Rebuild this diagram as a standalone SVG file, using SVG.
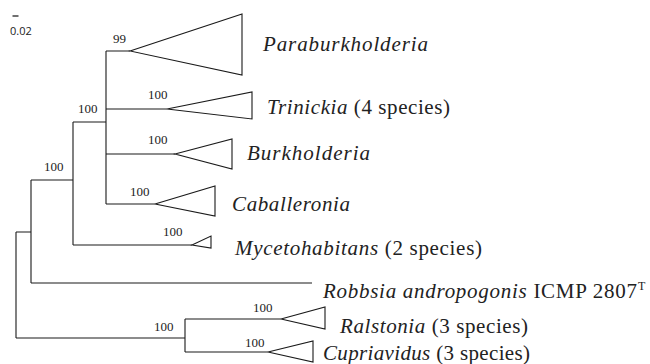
<svg xmlns="http://www.w3.org/2000/svg" width="650" height="364" viewBox="0 0 650 364">
<style>
.br{fill:none;stroke:#1a1a1a;stroke-width:1.1}
.tri{fill:#fff;stroke:#1a1a1a;stroke-width:1.1}
.bs{font-family:'Liberation Serif','Times New Roman',Times,'DejaVu Serif',serif;font-size:13px;fill:#222}
.tx{font-family:'Liberation Serif','Times New Roman',Times,'DejaVu Serif',serif;font-size:21px;fill:#222}
.it{font-style:italic}
.sup{font-family:'Liberation Serif','Times New Roman',Times,'DejaVu Serif',serif;font-size:12px;fill:#222}
.sc{font-family:'Open Sans','Liberation Sans',sans-serif;font-size:11px;fill:#222}
</style>
<rect width="650" height="364" fill="#fff"/>
<g id="scale">
<line x1="12.5" y1="16" x2="18.5" y2="16" stroke="#333" stroke-width="1.4"/>
<text x="10" y="35" class="sc">0.02</text>
</g>
<g id="connectors">
<path class="br" d="M16,232V338M16,232H31M16,338H185M31,180V283M31,180H73M31,283H312M73,122V245M73,122H106M73,245H192M106,51V204M106,51H130M106,109H167M106,154H175M106,204H155M185,319V352M185,319H281M185,352H268"/>
</g>
<g id="support">
<text x="113" y="43" class="bs">99</text>
<text x="78" y="113" class="bs">100</text>
<text x="148" y="99" class="bs">100</text>
<text x="148" y="144" class="bs">100</text>
<text x="44" y="171" class="bs">100</text>
<text x="130" y="196" class="bs">100</text>
<text x="163" y="236" class="bs">100</text>
<text x="154" y="331" class="bs">100</text>
<text x="253" y="312" class="bs">100</text>
<text x="245" y="347" class="bs">100</text>
</g>
<g id="paraburkholderia">
<polygon class="tri" points="130,51 242,14 242,75"/>
<text x="263" y="51" class="tx it" textLength="165" lengthAdjust="spacing">Paraburkholderia</text>
</g>
<g id="trinickia">
<polygon class="tri" points="167,109 252,92 252,119"/>
<text x="267" y="114" class="tx" textLength="183" lengthAdjust="spacing"><tspan class="it">Trinickia</tspan> (4 species)</text>
</g>
<g id="burkholderia">
<polygon class="tri" points="175,154 232,139 232,169"/>
<text x="247" y="160" class="tx it" textLength="123" lengthAdjust="spacing">Burkholderia</text>
</g>
<g id="caballeronia">
<polygon class="tri" points="155,204 215,186 215,216"/>
<text x="232" y="211" class="tx it" textLength="118" lengthAdjust="spacing">Caballeronia</text>
</g>
<g id="mycetohabitans">
<polygon class="tri" points="192,245 211,236 211,248"/>
<text x="235" y="255" class="tx" textLength="247" lengthAdjust="spacing"><tspan class="it">Mycetohabitans</tspan> (2 species)</text>
</g>
<g id="robbsia">
<text x="323" y="298" class="tx" textLength="314" lengthAdjust="spacing"><tspan class="it">Robbsia andropogonis</tspan> ICMP 2807</text>
<text x="638" y="290" class="sup">T</text>
</g>
<g id="ralstonia">
<polygon class="tri" points="281,319 325,307 325,329"/>
<text x="340" y="333" class="tx" textLength="188" lengthAdjust="spacing"><tspan class="it">Ralstonia</tspan> (3 species)</text>
</g>
<g id="cupriavidus">
<polygon class="tri" points="268,352 313,341 313,362"/>
<text x="323" y="360" class="tx" textLength="207" lengthAdjust="spacing"><tspan class="it">Cupriavidus</tspan> (3 species)</text>
</g>
</svg>
